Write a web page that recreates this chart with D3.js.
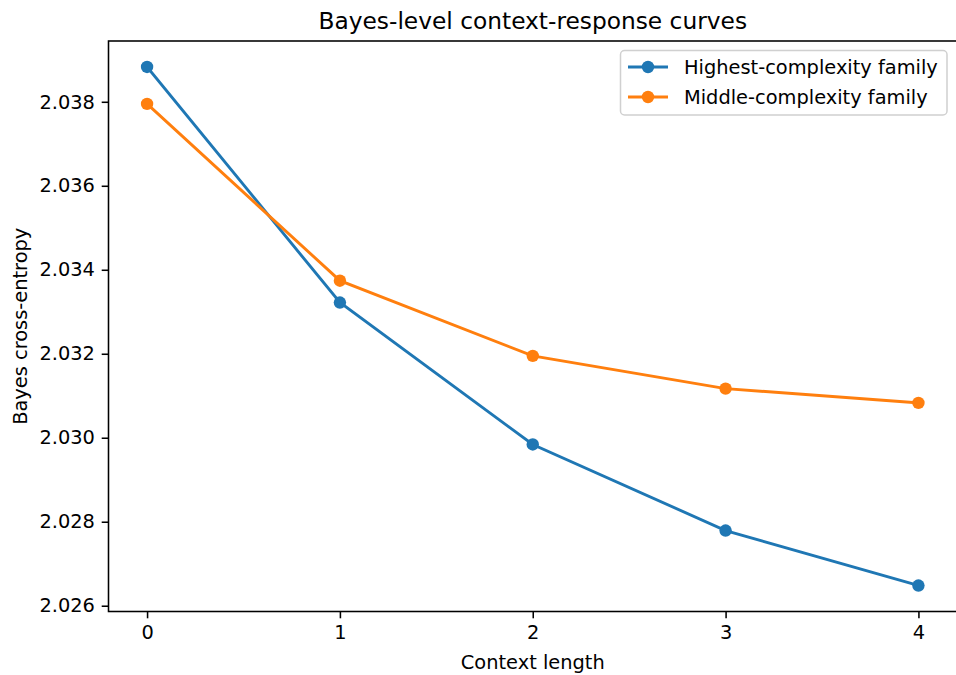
<!DOCTYPE html>
<html><head><meta charset="utf-8">
<script src="https://cdn.jsdelivr.net/npm/d3@7"></script>
<style>body{margin:0;background:#fff}svg{display:block;font-family:"DejaVu Sans",sans-serif}</style>
</head><body>
<svg id="c" width="956" height="675"></svg>
<script>
const contextLengths = [0, 1, 2, 3, 4];
const highestComplexity = [2.03883, 2.03322, 2.02984, 2.02779, 2.02648];
const middleComplexity = [2.03795, 2.03374, 2.03195, 2.03117, 2.03083];
const seriesNames = ["Highest-complexity family", "Middle-complexity family"];
const yTicks = [2.026, 2.028, 2.030, 2.032, 2.034, 2.036, 2.038];
const xTicks = [0, 1, 2, 3, 4];

const colors = ["#1f77b4", "#ff7f0e"];
const svg = d3.select("#c");
const L = 108.5, R = 957, T = 41, B = 611.5;
const fs = 19.4;

const all = highestComplexity.concat(middleComplexity);
const ymin = d3.min(all), ymax = d3.max(all), pad = (ymax - ymin) * 0.05;
const x = d3.scaleLinear().domain([-0.2, 4.2]).range([L, R]);
const y = d3.scaleLinear().domain([ymin - pad, ymax + pad]).range([B, T]);

const series = [highestComplexity, middleComplexity];
const line = d3.line().x((d, i) => x(contextLengths[i])).y(d => y(d));
series.forEach((s, k) => {
  svg.append("path").datum(s).attr("d", line).attr("fill", "none")
    .attr("stroke", colors[k]).attr("stroke-width", 2.9).attr("stroke-linecap", "square");
  svg.selectAll(null).data(s).enter().append("circle")
    .attr("cx", (d, i) => x(contextLengths[i])).attr("cy", d => y(d)).attr("r", 6.2)
    .attr("fill", colors[k]);
});

// axes
const xAxis = d3.axisBottom(x).tickValues(xTicks).tickFormat(d3.format("d")).tickSize(6.8).tickPadding(6.8);
const gx = svg.append("g").attr("transform", `translate(0,${B})`).call(xAxis);
const yAxis = d3.axisLeft(y).tickValues(yTicks).tickFormat(d3.format(".3f")).tickSize(6.8).tickPadding(6.8);
const gy = svg.append("g").attr("transform", `translate(${L},0)`).call(yAxis);
[gx, gy].forEach(g => {
  g.select(".domain").remove();
  g.selectAll(".tick line").attr("stroke", "#000").attr("stroke-width", 1.55);
  g.selectAll(".tick text").attr("fill", "#000").style("font-size", fs + "px").style("font-family", "DejaVu Sans");
});
svg.append("rect").attr("x", L).attr("y", T).attr("width", R - L).attr("height", B - T)
  .attr("fill", "none").attr("stroke", "#000").attr("stroke-width", 1.55);

// labels
svg.append("text").attr("x", (L + R) / 2).attr("y", 29).attr("text-anchor", "middle")
  .style("font-size", "23.3px").text("Bayes-level context-response curves");
svg.append("text").attr("x", (L + R) / 2).attr("y", 669).attr("text-anchor", "middle")
  .style("font-size", fs + "px").text("Context length");
svg.append("text").attr("transform", `translate(27,${(T + B) / 2}) rotate(-90)`).attr("text-anchor", "middle")
  .style("font-size", fs + "px").text("Bayes cross-entropy");

// legend
const lg = svg.append("g");
lg.append("rect").attr("x", 620.5).attr("y", 50.5).attr("width", 326.5).attr("height", 64.5)
  .attr("rx", 4).attr("fill", "#fff").attr("fill-opacity", 0.8).attr("stroke", "#d0d0d0").attr("stroke-width", 1.5);
seriesNames.forEach((n, k) => {
  const yy = 67 + k * 30;
  lg.append("line").attr("x1", 628).attr("x2", 668).attr("y1", yy).attr("y2", yy)
    .attr("stroke", colors[k]).attr("stroke-width", 2.9);
  lg.append("circle").attr("cx", 648).attr("cy", yy).attr("r", 6.2).attr("fill", colors[k]);
  lg.append("text").attr("x", 684).attr("y", yy + 7).style("font-size", fs + "px").text(n);
});
</script>
</body></html>
